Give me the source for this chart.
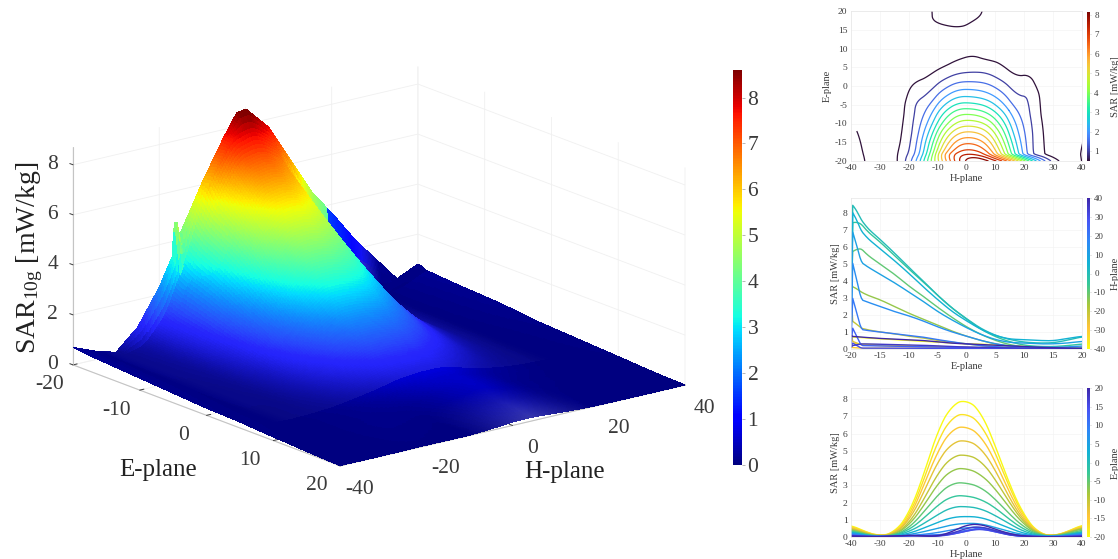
import numpy as np, pandas as pd, matplotlib
matplotlib.use("Agg")
import matplotlib.pyplot as plt, seaborn as sns
from matplotlib.colors import LinearSegmentedColormap, Normalize
from matplotlib.cm import ScalarMappable
from mpl_toolkits.mplot3d import proj3d

H_PLANE = np.arange(-40, 45, 5)
E_PLANE = [-20, -19.7, -19, -17.5, -15, -12.5, -10, -7.5, -5, -2.5, 0, 2.5, 5, 7.5, 10, 12.5, 15, 17.5, 20]
SAR = np.array([
 [.70,.30,.10,1.0,3.3,3.9,3.0,2.4,1.0,.8,.8,.5,.4,.2,.1,.1,.8],
 [.70,.35,.10,.55,1.8,3.75,5.5,7.3,8.7,8.4,7.7,6.1,3.9,1.75,.5,.15,.75],
 [.70,.30,.05,.25,1.3,3.5,6.2,7.7,8.0,7.3,5.3,3.0,1.2,.20,.05,.3,.72],
 [.65,.28,.05,.22,1.15,3.2,5.6,7.0,7.2,6.6,4.9,2.8,1.1,.20,.05,.3,.68],
 [.60,.25,.05,.20,1.0,2.9,5.0,6.3,6.45,5.9,4.4,2.5,1.0,.18,.05,.28,.62],
 [.55,.22,.05,.18,.9,2.5,4.4,5.5,5.65,5.2,3.9,2.2,.9,.16,.05,.26,.58],
 [.50,.20,.05,.15,.75,2.1,3.7,4.7,4.8,4.45,3.35,1.95,.8,.15,.05,.24,.54],
 [.45,.18,.04,.12,.65,1.75,3.1,3.95,4.0,3.65,2.8,1.65,.7,.13,.04,.22,.5],
 [.40,.15,.03,.10,.5,1.4,2.45,3.15,3.15,2.9,2.2,1.3,.55,.12,.04,.18,.42],
 [.35,.12,.03,.08,.4,1.05,1.85,2.4,2.4,2.2,1.7,1.0,.42,.10,.03,.14,.34],
 [.30,.10,.03,.06,.3,.75,1.3,1.75,1.78,1.65,1.25,.75,.3,.08,.03,.12,.3],
 [.28,.08,.02,.05,.2,.5,.85,1.15,1.2,1.15,.85,.5,.2,.06,.03,.1,.26],
 [.25,.07,.02,.05,.13,.3,.5,.72,.8,.78,.55,.3,.13,.05,.02,.08,.22],
 [.20,.05,.02,.04,.08,.15,.25,.42,.55,.58,.38,.18,.1,.03,.02,.06,.18],
 [.15,.04,.02,.04,.07,.1,.12,.22,.4,.55,.35,.12,.05,.02,.02,.05,.14],
 [.12,.03,.02,.04,.08,.08,.07,.15,.35,.5,.3,.1,.04,.02,.02,.04,.1],
 [.10,.03,.02,.05,.09,.08,.04,.14,.36,.48,.3,.1,.03,.02,.01,.03,.08],
 [.08,.03,.02,.06,.1,.06,.03,.2,.52,.62,.35,.12,.04,.02,.01,.02,.05],
 [.05,.02,.02,.06,.1,.05,.04,.3,.72,.75,.45,.18,.05,.02,.01,.01,.03],
])
# far-side rows as the contour panel shows them (E = 7.5 ... 20)
CONTOUR_ROWS_FAR = np.array([
 [.20,.05,.02,.04,.08,.15,.25,.45,.55,.42,.38,.18,.1,.03,.02,.06,.18],
 [.15,.04,.02,.04,.07,.1,.12,.25,.38,.33,.3,.12,.05,.02,.02,.05,.14],
 [.12,.03,.02,.04,.08,.08,.1,.2,.3,.3,.25,.1,.04,.02,.02,.04,.1],
 [.10,.03,.02,.05,.09,.3,.4,.45,.42,.38,.25,.1,.03,.02,.01,.03,.08],
 [.08,.03,.02,.06,.1,.48,.6,.65,.5,.36,.25,.12,.04,.02,.01,.02,.05],
 [.05,.02,.02,.06,.15,.5,.56,.68,.78,.38,.25,.16,.05,.02,.01,.01,.03],
])
# flanks as the contour panel shows them, E = -19.7 ... 20
CONTOUR_H_M25 = [.55,.60,.55,.45,.40,.35,.30,.25,.20,.15,.10,.06,.04,.04,.04,.05,.06,.06]
CONTOUR_H_M20 = [1.8,1.5,1.3,1.2,1.1,1.05,1.0,1.0,.8,.6,.35,.2,.08,.07,.08,.09,.1,.15]
CONTOUR_H_P20 = [3.9,1.2,1.1,1.1,1.1,1.05,1.0,1.0,1.0,.7,.55,.35,.1,.05,.04,.03,.04,.05]
CONTOUR_H_P25 = [1.75,.5,.48,.45,.42,.38,.32,.28,.22,.18,.15,.1,.03,.02,.02,.02,.02,.02]
RIDGE_H_3D = [-40, -35, -30, -25, -20, -17, -16.5, -15.5, -15, -10, -5, -2, 0, 5, 10, 15, 20, 25, 30, 35, 40]
RIDGE_SAR_3D = [.70, .35, .10, .9, 2.3, 3.4, 4.9, 4.0, 4.3, 6.1, 7.7, 8.55, 8.6, 7.7, 6.2, 4.7, 3.6, 2.4, 1.4, .4, .8]
E_TICKS_3D = [-20, -10, 0, 10, 20]
H_TICKS_3D = [-40, -20, 0, 20, 40]
Z_TICKS_3D = [0, 2, 4, 6, 8]
BAR_TICKS_3D = [0, 1, 2, 3, 4, 5, 6, 7, 8]
CONTOUR_LEVELS = [0.5, 1, 1.5, 2, 2.5, 3, 3.5, 4, 4.5, 5, 5.5, 6, 6.5, 7, 7.5, 8]

sns.set_theme(style="white")
plt.rcParams['font.family'] = ['Liberation Serif', 'DejaVu Serif']
plt.rcParams['axes.unicode_minus'] = False
plt.rcParams['mathtext.fontset'] = 'custom'
plt.rcParams['mathtext.rm'] = 'Liberation Serif'
plt.rcParams['mathtext.it'] = 'Liberation Serif:italic'
INK = '#3a3a3a'
W, H_ = 1118, 559
fig = plt.figure(figsize=(W/100, H_/100), dpi=100, facecolor='white')

def rect(x0, y0, x1, y1):
    return [x0/W, 1-y1/H_, (x1-x0)/W, (y1-y0)/H_]

def smooth_curve(xf, x, y, width):
    """Draw a read curve without corners: resample and run a short box filter."""
    yf = np.interp(xf, x, y)
    n = max(1, int(round(width/(xf[1]-xf[0]))))
    pad = np.r_[np.full(n, yf[0]), yf, np.full(n, yf[-1])]
    return np.convolve(pad, np.ones(2*n+1)/(2*n+1), mode='same')[n:-n]

parula_r = LinearSegmentedColormap.from_list('parula_r', [
    (0.9769,0.9839,0.0805),(0.9970,0.7659,0.2199),(0.6720,0.7793,0.2227),(0.2161,0.7843,0.5923),
    (0.0689,0.6948,0.8394),(0.1786,0.5289,0.9682),(0.2810,0.3228,0.9579),(0.2422,0.1504,0.6603)])

# 3D surface
ax = fig.add_axes(rect(20, 20, 700, 700), projection='3d', proj_type='ortho', computed_zorder=False)
ax.patch.set_visible(False)
ax.view_init(elev=17.3, azim=-38.2)
ax.set_box_aspect((432, 439, 228))
ax.set_xlim(-20, 20, view_margin=0)
ax.set_ylim(-40, 40, view_margin=0)
ax.set_zlim(0, 8.7, view_margin=0)
ax.zaxis._axinfo['juggled'] = (1, 2, 0)
E_fine = np.unique(np.r_[E_PLANE, np.linspace(-20, 20, 161)])
H_fine = np.linspace(-40, 40, 241)
Z_col = np.array([smooth_curve(H_fine, H_PLANE, row, 1.5) for row in SAR])
Z_col[0] = Z_col[1] = np.interp(H_fine, RIDGE_H_3D, RIDGE_SAR_3D)
Z_fine = np.array([np.interp(E_fine, E_PLANE, Z_col[:, j]) for j in range(Z_col.shape[1])]).T
HH, EE = np.meshgrid(H_fine, E_fine)
# the far edge sits almost on the floor in the 3D view
Z_fine = Z_fine*(1-.8*np.clip((EE-12)/8, 0, 1))
norm3d = Normalize(0, 8.6)
# the reference colours its low outer flanks and the hidden back edge darker than their height
outer = np.clip((HH-26)/4, 0, 1) + np.clip((-30-HH)/4, 0, 1)
Z_tint = Z_fine*(1-.75*outer)
Z_tint = np.where((EE < -18.5) & (HH > 18), Z_tint*.4, Z_tint)
faces = plt.cm.jet(norm3d(Z_tint))
veil = 0.22*np.exp(-((Z_fine-1.3)/1.0)**2)*(EE < 6)*(1-outer)
veil = veil + .3*np.clip((EE-12)/8, 0, 1)*np.clip(1-np.abs(HH-4)/14, 0, 1)
faces[..., :3] = faces[..., :3]*(1-veil[..., None]) + np.array([.72, .72, .92])*veil[..., None]
ax.plot_surface(EE, HH, Z_fine, facecolors=faces, rstride=1, cstride=1,
                linewidth=0, antialiased=False, shade=False)
ax.set_xticks(E_TICKS_3D); ax.set_yticks(H_TICKS_3D); ax.set_zticks(Z_TICKS_3D)
for axis in (ax.xaxis, ax.yaxis, ax.zaxis):
    axis.set_pane_color((1, 1, 1, 0))
    axis.pane.set_edgecolor((1, 1, 1, 0))
    axis.line.set_color('#c4c4c4')
    axis.line.set_linewidth(0.8)
    axis._axinfo['grid'].update(color='#f0f0f0', linewidth=0.6)
    axis._axinfo['tick'].update(inward_factor=0, outward_factor=0.15, linewidth={True: .7, False: .5}, color='#c4c4c4')
ax.tick_params(axis='both', labelsize=15.5, colors=INK)
ax.tick_params(axis='x', pad=8)
ax.tick_params(axis='y', pad=9.5)
ax.tick_params(axis='z', pad=0)
for axis in (ax.xaxis, ax.yaxis, ax.zaxis):
    for t in axis.get_major_ticks():
        t.label1.set_va('center')

P_TARGET = [((-20, -40, 0), (73, 365)), ((20, 40, 0), (685, 385))]
for _ in range(3):
    fig.canvas.draw()
    px = []
    for (x, y, z), _t in P_TARGET:
        a, b, _c = proj3d.proj_transform(x, y, z, ax.get_proj())
        d = ax.transData.transform((a, b))
        px.append((d[0], H_ - d[1]))
    px = np.array(px); tgt = np.array([t for _p, t in P_TARGET], float)
    s = np.linalg.norm(tgt[1]-tgt[0]) / np.linalg.norm(px[1]-px[0])
    bb = ax.get_position().frozen()
    cx, cy = (bb.x0+bb.x1)/2*W, (1-(bb.y0+bb.y1)/2)*H_
    dc = tgt.mean(0) - px.mean(0)
    size = bb.width*W*s
    cx_new = cx + dc[0] + (px.mean(0)[0]-cx)*(1-s)
    cy_new = cy + dc[1] + (px.mean(0)[1]-cy)*(1-s)
    ax.set_position(rect(cx_new-size/2, cy_new-size/2, cx_new+size/2, cy_new+size/2))

fig.text(158/W, 1-470/H_, 'E-plane', fontsize=18, color='#222222', ha='center', va='center')
fig.text(565/W, 1-472/H_, 'H-plane', fontsize=18, color='#222222', ha='center', va='center')
fig.text(30/W, 1-258/H_, r'SAR$_{\mathrm{10g}}$ [mW/kg]', fontsize=20, color='#222222', ha='center', va='center', rotation=90)

cax = fig.add_axes(rect(733, 70, 742, 465))
cb = fig.colorbar(ScalarMappable(norm3d, 'jet'), cax=cax, ticks=BAR_TICKS_3D)
cb.outline.set_visible(False)
cb.ax.tick_params(labelsize=15.5, length=2, width=.5, color='#999999', labelcolor=INK, pad=2)

# small panels
def style(a, xlabel, ylabel, xticks, yticks):
    a.set_xlabel(xlabel, fontsize=7.5, color=INK, labelpad=1)
    a.set_ylabel(ylabel, fontsize=7.5, color=INK, labelpad=2)
    a.set_xticks(xticks); a.set_yticks(yticks)
    a.tick_params(labelsize=6.8, length=1.5, width=.4, color='#aaaaaa', labelcolor=INK, pad=1)
    a.grid(True, color='#f4f4f4', linewidth=.5)
    for s_ in a.spines.values():
        s_.set_color('#e6e6e6'); s_.set_linewidth(.5)

def small_bar(y0, y1, cmap, norm, ticks, label):
    c = fig.add_axes(rect(1087, y0, 1090, y1))
    b = fig.colorbar(ScalarMappable(norm, cmap), cax=c, ticks=ticks)
    b.outline.set_visible(False)
    b.ax.tick_params(labelsize=6.5, length=1, width=.4, color='#aaaaaa', labelcolor=INK, pad=2)
    b.ax.yaxis.set_label_coords(8.0, .5)
    b.set_label(label, fontsize=7.5, color=INK)

a1 = fig.add_axes(rect(851, 11, 1082, 161))
norm1 = Normalize(0.5, 8.15)
Hc = np.linspace(-40, 40, 241)
Ec = np.linspace(-20, 20, 161)
SAR_contour = np.vstack([SAR[1:13], CONTOUR_ROWS_FAR])
for h_col, col in ((-25, CONTOUR_H_M25), (-20, CONTOUR_H_M20), (20, CONTOUR_H_P20), (25, CONTOUR_H_P25)):
    SAR_contour[:, list(H_PLANE).index(h_col)] = col
Zc = np.array([smooth_curve(Hc, H_PLANE, row, 2.5) for row in SAR_contour])
Zc = np.array([smooth_curve(Ec, E_PLANE[1:], Zc[:, j], 1.0) for j in range(Zc.shape[1])]).T
a1.contour(Hc + 2, Ec, Zc, levels=CONTOUR_LEVELS, cmap='turbo', norm=norm1, linewidths=.9)
a1.set_xlim(-40, 40); a1.set_ylim(-20, 20)
style(a1, 'H-plane', 'E-plane', list(range(-40, 41, 10)), list(range(-20, 21, 5)))
small_bar(12, 161, 'turbo', norm1, list(range(1, 9)), 'SAR [mW/kg]')

a2 = fig.add_axes(rect(851, 198, 1082, 349))
norm2 = Normalize(-40, 40)
e_tail = np.linspace(-19.7, 20, 160)
rows2 = []
for j, h in enumerate(H_PLANE):
    y = smooth_curve(e_tail, E_PLANE[1:], SAR[1:, j], 1.0)
    rows2.append(pd.DataFrame({'E': np.r_[-20, e_tail], 'SAR': np.r_[SAR[0, j], y], 'H': h}))
df2 = pd.concat(rows2)
sns.lineplot(data=df2, x='E', y='SAR', hue='H', palette=parula_r, hue_norm=norm2, estimator=None, legend=False, ax=a2, linewidth=1)
a2.set_xlim(-20, 20); a2.set_ylim(0, 8.87)
style(a2, 'E-plane', 'SAR [mW/kg]', list(range(-20, 21, 5)), list(range(0, 9)))
small_bar(198, 349, parula_r, norm2, list(range(-40, 41, 10)), 'H-plane')

a3 = fig.add_axes(rect(851, 388, 1082, 537))
norm3 = Normalize(-20, 20)
h_f = np.linspace(-40, 40, 321)
rows3 = []
for i, e in enumerate(E_PLANE):
    if e >= -19:
        lab = -20 + 2.5*(i-2)
        rows3.append(pd.DataFrame({'H': h_f, 'SAR': smooth_curve(h_f, H_PLANE, SAR[i], 3.0), 'E': lab}))
df3 = pd.concat(rows3)
sns.lineplot(data=df3, x='H', y='SAR', hue='E', palette=parula_r, hue_norm=norm3, estimator=None, legend=False, ax=a3, linewidth=1)
a3.set_xlim(-40, 40); a3.set_ylim(0, 8.65)
style(a3, 'H-plane', 'SAR [mW/kg]', list(range(-40, 41, 10)), list(range(0, 9)))
small_bar(388, 537, parula_r, norm3, list(range(-20, 21, 5)), 'E-plane')

fig.savefig('out.png', dpi=100, facecolor='white')
